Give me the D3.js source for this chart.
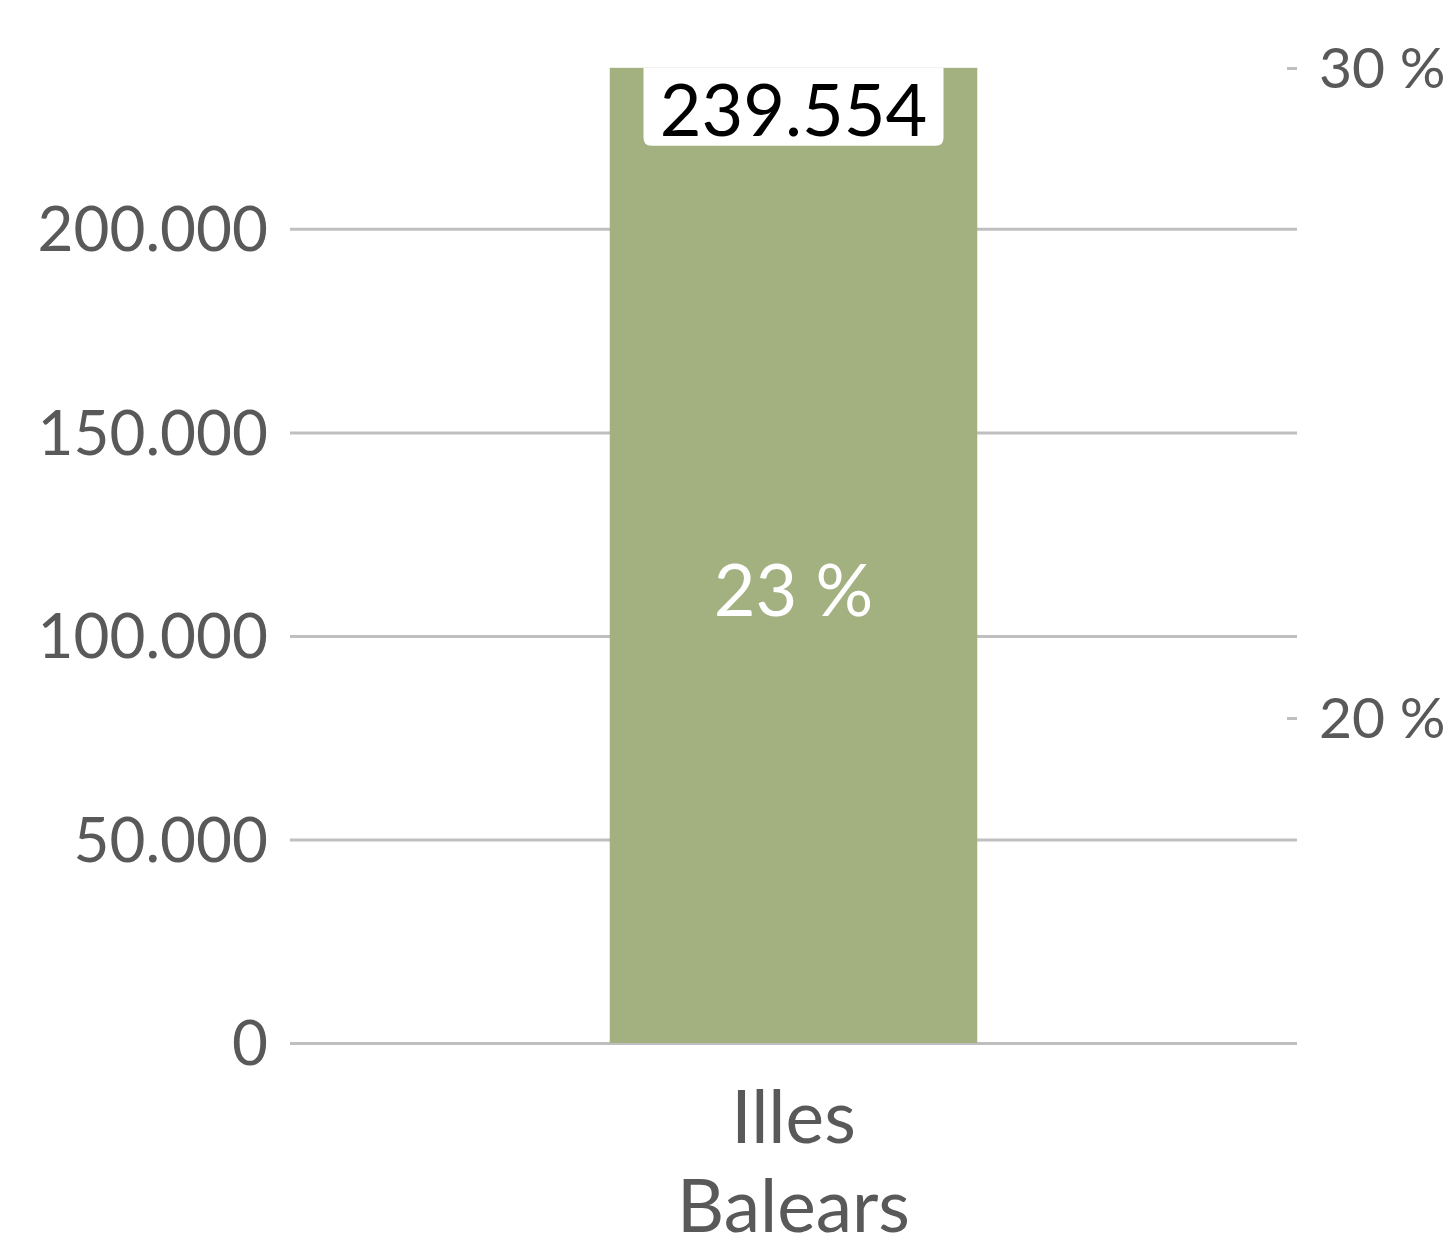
<!DOCTYPE html>
<html><head><meta charset="utf-8">
<script src="https://cdn.jsdelivr.net/npm/d3@7"></script>
<style>html,body{margin:0;padding:0;background:#fff;}</style>
</head><body>
<svg id="c" width="1454" height="1250"></svg>
<script>
const categories = ["Illes Balears"];
const values = [239554];
const shares = [0.23];
const leftTicks = [0, 50000, 100000, 150000, 200000];
const rightTicks = [0.20, 0.30];

const svg = d3.select("#c");
const font = "Lato, 'Open Sans', sans-serif";
const x0 = 290, x1 = 1297, yBottom = 1043, yTop = 66;

const x = d3.scaleBand().domain(categories).range([x0, x1]).paddingInner(0).paddingOuter(0.87);
const y = d3.scaleLinear().domain([0, 240000]).range([yBottom, yTop]);
const yR = d3.scaleLinear().domain([0.15, 0.30]).range([yBottom, 68]);

const fmtN = v => d3.format(",")(v).replace(/,/g, ".");
const fmtP = v => Math.round(v * 100) + " %";

// gridlines
const gl = d3.axisLeft(y).tickValues(leftTicks).tickSize(-(x1 - x0)).tickFormat("");
const gg = svg.append("g").attr("transform", `translate(${x0},0)`).call(gl);
gg.select(".domain").remove();
gg.selectAll("line").attr("stroke", "#bfbfbf").attr("stroke-width", 3);

// left axis labels
const la = d3.axisLeft(y).tickValues(leftTicks).tickSize(0).tickPadding(22).tickFormat(fmtN);
const lg = svg.append("g").attr("transform", `translate(${x0},0)`).call(la);
lg.select(".domain").remove();
lg.selectAll("text").attr("font-family", font).attr("font-size", 62).attr("fill", "#595959").attr("dy", "0.35em");

// right axis
const ra = d3.axisRight(yR).tickValues(rightTicks).tickSize(10).tickPadding(22).tickFormat(fmtP);
const rg = svg.append("g").attr("transform", `translate(${x1 - 10},0)`).call(ra);
rg.select(".domain").remove();
rg.selectAll("line").attr("stroke", "#bfbfbf").attr("stroke-width", 3);
rg.selectAll("text").attr("font-family", font).attr("font-size", 57).attr("fill", "#595959").attr("dy", "0.35em");

// bars (clipped to plot area)
svg.append("clipPath").attr("id", "plot").append("rect")
  .attr("x", x0).attr("y", yTop).attr("width", x1 - x0).attr("height", yBottom - yTop);
const data = categories.map((c, i) => ({c, v: values[i], p: shares[i]}));
svg.append("g").attr("clip-path", "url(#plot)").selectAll("rect.bar").data(data).join("rect")
  .attr("class", "bar")
  .attr("x", d => x(d.c)).attr("width", x.bandwidth())
  .attr("y", d => y(d.v)).attr("height", d => yBottom - y(d.v))
  .attr("fill", "#a2b17f");

// share label
svg.selectAll("text.share").data(data).join("text").attr("class", "share")
  .attr("x", d => x(d.c) + x.bandwidth() / 2)
  .attr("y", d => (y(d.v) + yBottom) / 2 + 35)
  .attr("text-anchor", "middle").attr("dy", "0.35em")
  .attr("font-family", font).attr("font-size", 72).attr("fill", "#ffffff")
  .text(d => fmtP(d.p));

// value label box
data.forEach(d => {
  const cx = x(d.c) + x.bandwidth() / 2;
  const top = Math.max(y(d.v), yTop);
  const w = 300, h = 78, r = 8;
  const l = cx - w / 2;
  const path = `M${l},${top} L${l + w},${top} L${l + w},${top + h - r} Q${l + w},${top + h} ${l + w - r},${top + h} L${l + r},${top + h} Q${l},${top + h} ${l},${top + h - r} Z`;
  svg.append("path").attr("d", path).attr("fill", "#fff");
  svg.append("text").attr("x", cx).attr("y", top + h / 2 + 4).attr("dy", "0.35em")
    .attr("text-anchor", "middle").attr("font-family", font).attr("font-size", 72).attr("fill", "#000")
    .text(fmtN(d.v));
});

// category labels
svg.selectAll("g.cat").data(data).join("g").attr("class", "cat").each(function(d) {
  const words = d.c.split(" ");
  d3.select(this).selectAll("text").data(words).join("text")
    .attr("x", x(d.c) + x.bandwidth() / 2)
    .attr("y", (w, i) => 1143 + i * 89)
    .attr("text-anchor", "middle").attr("font-family", font).attr("font-size", 73).attr("fill", "#595959")
    .text(w => w);
});
</script>
</body></html>
